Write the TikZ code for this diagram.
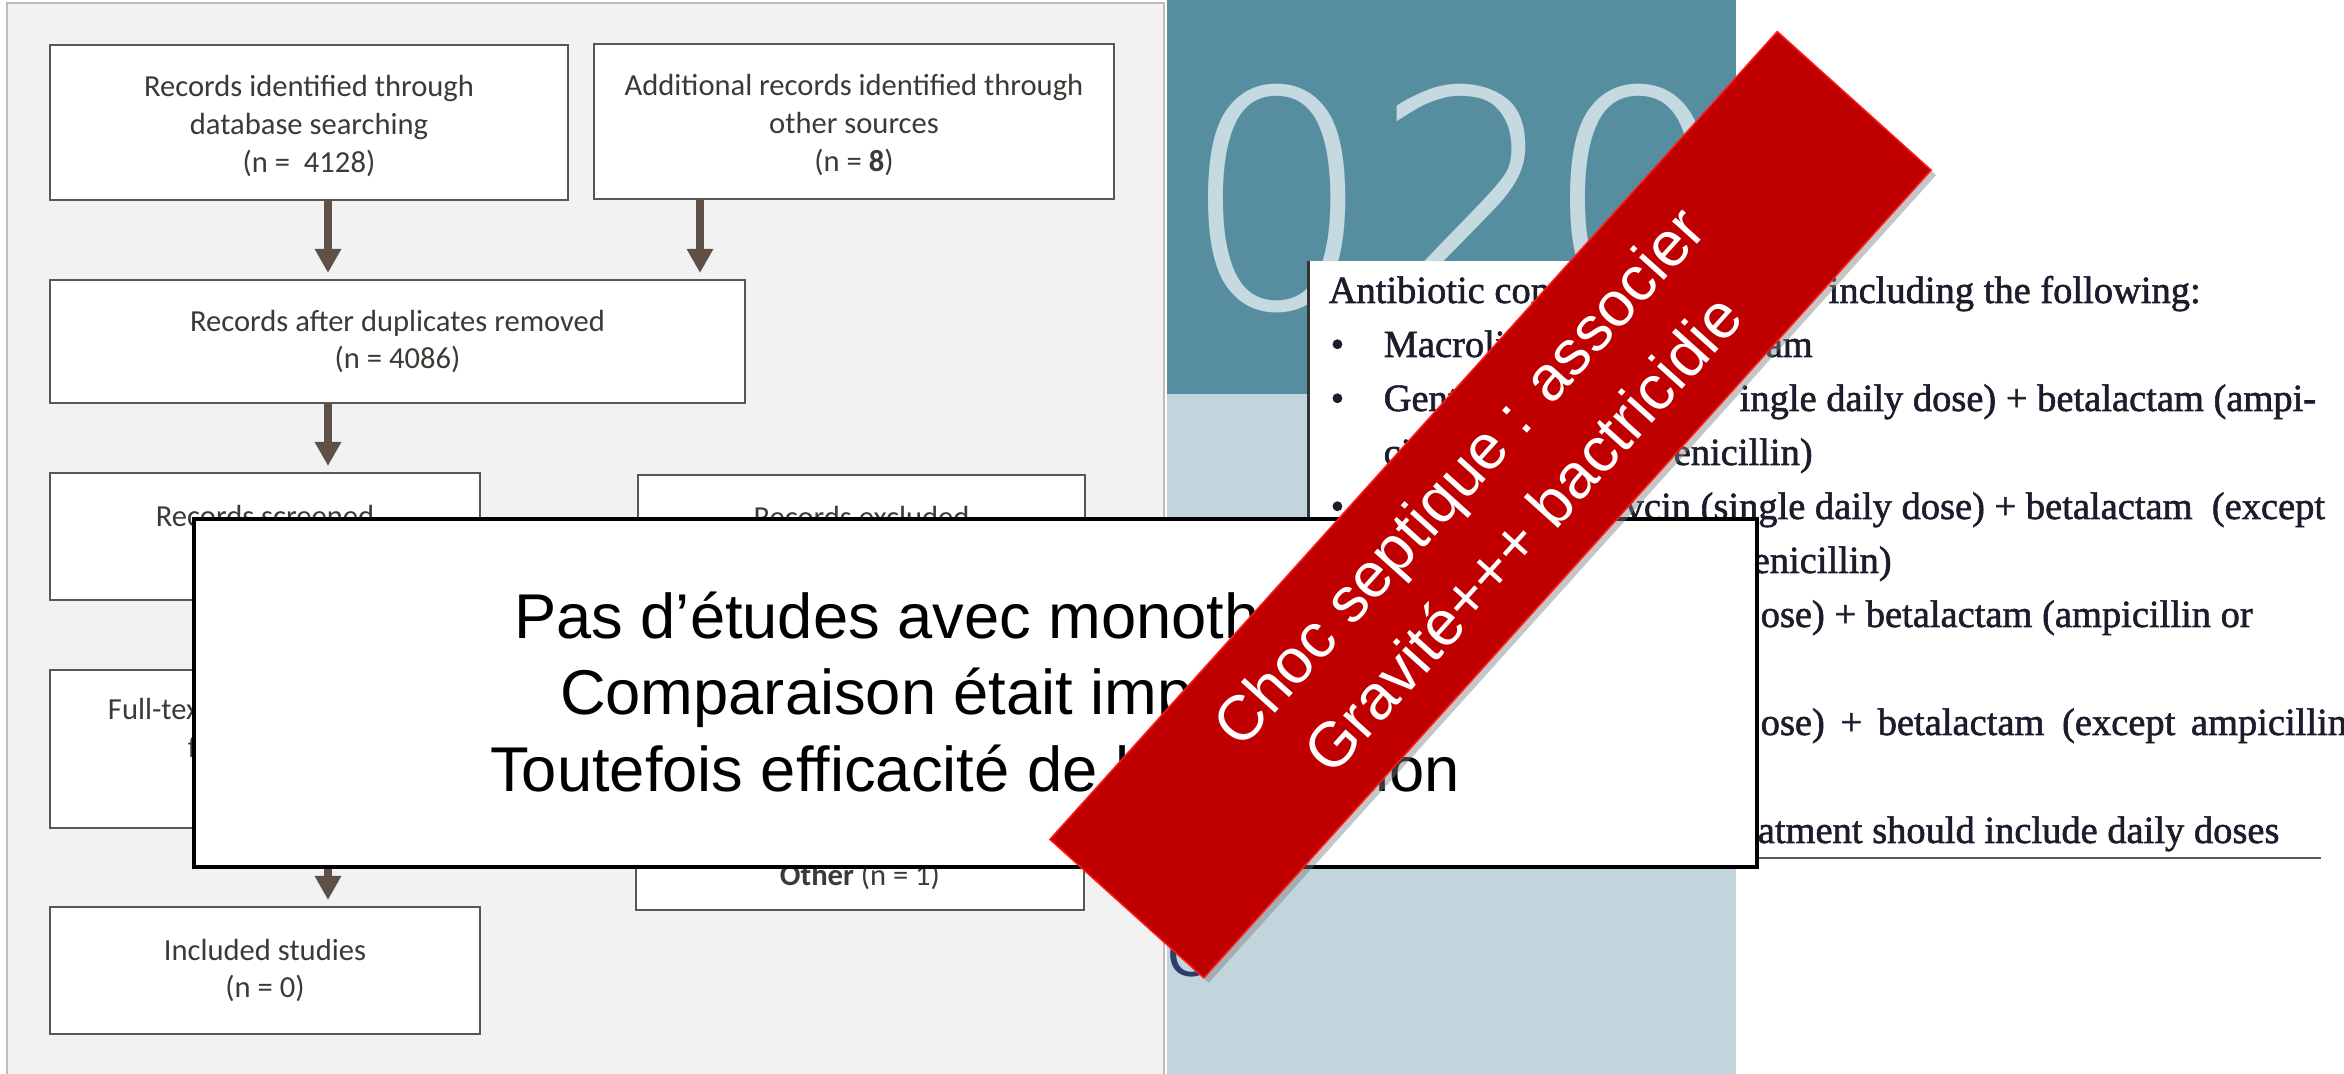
\documentclass[tikz,border=0pt]{standalone}
\usepackage{fontspec}
\setmainfont{Liberation Sans}
\newfontfamily\flowfont{Carlito}
\newfontfamily\panelfont{Liberation Serif}[FakeBold=1.5]
\IfFontExistsTF{DejaVu Sans ExtraLight}{%
  \newfontfamily\yearfont{DejaVu Sans ExtraLight}%
  \newcommand\yearsize{\fontsize{86}{86}\selectfont}%
  \newcommand\yearkern{\kern-2.3mm}%
  \newcommand\yearx{1181}\newcommand\yeary{309}}{%
  \newfontfamily\yearfont{Lato Hairline}%
  \newcommand\yearsize{\fontsize{87}{87}\selectfont}%
  \newcommand\yearkern{}%
  \newcommand\yearx{1185}\newcommand\yeary{312}}
\usetikzlibrary{arrows.meta,shadows}

\newlength{\du}
\setlength{\du}{0.1mm}

\definecolor{panelgrey}{HTML}{F2F2F2}
\definecolor{panelborder}{HTML}{C5BAB2}
\definecolor{boxline}{HTML}{5B5650}
\definecolor{flowtext}{HTML}{3D3935}
\definecolor{arrowbrown}{HTML}{5F5047}
\definecolor{tealbg}{HTML}{578E9F}
\definecolor{paleblue}{HTML}{C2D5DC}
\definecolor{yearcol}{HTML}{C4D9E0}
\definecolor{paneltextcol}{HTML}{1C1C2C}
\definecolor{navyc}{HTML}{2E3D6B}
\definecolor{bannerred}{HTML}{C00000}
\definecolor{bannerrim}{HTML}{FF1A1A}

\tikzset{
  prismabox/.style={draw=boxline, line width=0.2mm, fill=white, inner sep=0pt,
    align=center, text=flowtext, font=\flowfont\fontsize{8.7}{10.8}\selectfont},
  flowarrow/.style={draw=arrowbrown, line width=0.8mm,
    -{Triangle[width=2.5mm,length=2.4mm]}, shorten >=0.6mm},
  paneltext/.style={anchor=base west, inner sep=0pt, text=paneltextcol,
    font=\panelfont\fontsize{10.95}{13}\selectfont}
}

\begin{document}
\begin{tikzpicture}
\pgftransformxscale{1.000000}
\pgftransformyscale{-1.000000}
\useasboundingbox (0,0) rectangle (2344\du,1074\du);
% backgrounds
\fill[white] (0,0) rectangle (2344\du,1074\du);
\filldraw[fill=panelgrey, draw=panelborder, line width=0.25mm] (7\du,3\du) rectangle (1164\du,1090\du);
\fill[tealbg] (1167\du,0) rectangle (1736\du,394\du);
\fill[paleblue] (1167\du,394\du) rectangle (1736\du,1074\du);
\node[anchor=base west, inner sep=0pt, text=yearcol, font=\yearfont\yearsize] (year) at (\yearx\du,\yeary\du) {02\yearkern0};

% flow diagram
\node[prismabox, minimum width=518\du, minimum height=155\du] (ident) at (309\du,122.5\du) {\rule{0pt}{2.9mm}Records identified through\\database searching\\(n = \ 4128)};
\node[prismabox, minimum width=520\du, minimum height=155\du] (addit) at (854\du,121.5\du) {\rule{0pt}{2.9mm}Additional records identified through\\other sources\\(n = \textbf{8})};
\node[prismabox, minimum width=695\du, minimum height=123\du] (dedup) at (397.5\du,341.5\du) {Records after duplicates removed\\(n = 4086)};
\node[prismabox, minimum width=430\du, minimum height=127\du] (screen) at (265\du,536.5\du) {Records screened\\\phantom{(n = 0)}};
\node[prismabox, minimum width=447\du, minimum height=125\du] (excl) at (861.5\du,537.5\du) {Records excluded\\\phantom{(n = 0)}};
\node[prismabox, minimum width=430\du, minimum height=158\du] (fulltext) at (265\du,749\du) {Full-text articles assessed\\for eligibility\\\phantom{(n = 0)}};
\node[prismabox, minimum width=448\du, minimum height=270\du] (ftexcl) at (860\du,775\du) {};
\node[anchor=base, inner sep=0pt, text=flowtext, font=\flowfont\fontsize{8.7}{10.8}\selectfont] (other) at (860\du,886\du) {\textbf{Other} (n = 1)};
\node[prismabox, minimum width=430\du, minimum height=127\du] (incl) at (265\du,970.5\du) {Included studies\\(n = 0)};

\coordinate (spine) at (328\du,0);
\coordinate (sidespine) at (700\du,0);
\draw[flowarrow] (ident.south -| spine) -- (dedup.north -| spine);
\draw[flowarrow] (addit.south -| sidespine) -- (dedup.north -| sidespine);
\draw[flowarrow] (dedup.south -| spine) -- (screen.north -| spine);
\draw[flowarrow] (screen.south -| spine) -- (fulltext.north -| spine);
\draw[flowarrow] (fulltext.south -| spine) -- (incl.north -| spine);

% guideline page
\fill[white] (1307\du,261\du) rectangle (2344\du,866\du);
\draw[line width=0.3mm, black!80] (1308\du,261\du) -- (1308\du,866\du);
\draw[line width=0.2mm, black!65] (1330\du,858\du) -- (2321\du,858\du);
\node[paneltext] (l1a) at (1328\du,303\du) {Antibiotic com};
\node[paneltext] (l1b) at (1828\du,303\du) {including the following:};
\node[paneltext] (b2) at (1330\du,357\du) {•};
\node[paneltext] (l2a) at (1383\du,357\du) {Macroli};
\node[paneltext] (l2b) at (1765\du,357\du) {am};
\node[paneltext] (b3) at (1330\du,411\du) {•};
\node[paneltext] (l3a) at (1383\du,411\du) {Gent};
\node[paneltext] (l3b) at (1739\du,411\du) {ingle daily dose) + betalactam (ampi-};
\node[paneltext] (l4a) at (1383\du,465\du) {ci};
\node[paneltext] (l4b) at (1673\du,465\du) {enicillin)};
\node[paneltext] (b5) at (1330\du,519\du) {•};
\node[paneltext] (l5b) at (1624\du,519\du) {ycin (single daily dose) + betalactam \ (except};
\node[paneltext] (l6b) at (1752\du,573\du) {enicillin)};
\node[paneltext] (l7b) at (1760\du,627\du) {ose) + betalactam (ampicillin or};
\node[paneltext] (l9b) at (1760\du,735\du) {ose)\hspace{0.6mm} +\hspace{0.6mm} betalactam \hspace{0.8mm}(except\hspace{0.6mm} ampicillin};
\node[paneltext] (l11b) at (1740\du,843\du) {eatment should include daily doses};
\node[anchor=base west, inner sep=0pt, text=navyc, font=\fontsize{18}{18}\selectfont] (cglyph) at (1167\du,977\du) {C};

% overlay note
\node[draw=black, line width=0.4mm, fill=white, minimum width=1563\du, minimum height=348\du, inner sep=0pt] (note) at (975.5\du,693\du) {};
\node[align=center, inner sep=0pt, font=\fontsize{18}{21.9}\selectfont] (notetext) at (975\du,692\du) {Pas d’études avec monothérapie\\Comparaison était impossible\\Toutefois efficacité de l’association};

% banner
\node[rotate=48, fill=bannerred, draw=bannerrim, line width=0.15mm, minimum width=1087\du, minimum height=207\du, inner sep=0pt, text=white, align=center, font=\fontsize{18}{24.5}\selectfont, drop shadow={opacity=0.45, shadow xshift=0.5mm, shadow yshift=-0.5mm}] (banner) at (1490.5\du,504.75\du) {Choc septique : associer\\Gravité+++ bactricidie};
\end{tikzpicture}
\end{document}
